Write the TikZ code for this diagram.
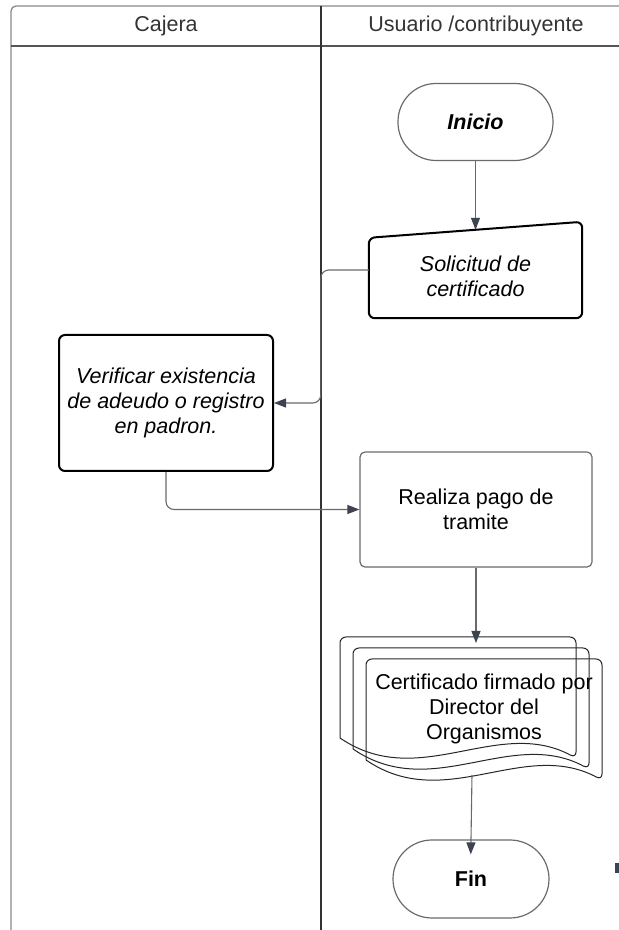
\documentclass[tikz,border=0pt]{standalone}
\usepackage{fontspec}
\setmainfont{Liberation Sans}
\usetikzlibrary{arrows.meta,calc}
\definecolor{laneline}{HTML}{555555}
\definecolor{connline}{HTML}{6A6A6A}
\definecolor{tipcol}{HTML}{3D4350}
\definecolor{headtext}{HTML}{333333}
\def\docpage[#1](#2){\draw[#1, rounded corners=6pt] (#2) ++(0, -101) -- ++(0, 101) -- ++(236, 0) -- ++(0, -121) .. controls +(-79, 42) and +(79, -54) .. ++(-236, 20);}

\begin{document}
\begin{tikzpicture}[x=1pt, y=1pt,
		every node/.style={font=\fontsize{21.5}{25}\selectfont, align=center},
		lane/.style={line width=1.3pt, color=laneline},
		conn/.style={line width=1.1pt, color=connline, rounded corners=8pt, -{Triangle[length=12pt, width=9pt, color=tipcol]}},
		stadium/.style={draw=connline, line width=1.2pt, rounded corners=38pt, minimum height=77pt},
		boldbox/.style={draw=black, line width=2pt, rounded corners=6pt},
		plainbox/.style={draw=connline, line width=1.2pt, rounded corners=5pt},
		docline/.style={line width=1pt, color=black!85}]
			%%%%% START %%%%%
			\useasboundingbox (0, 0) rectangle (619, 930);
			
			% lanes
			\draw[lane, color=laneline!70, rounded corners=5pt] (11, 0) -- (11, 924) -- (619, 924);
			\draw[lane] (11, 884) -- (619, 884);
			\draw[lane, color=black!80] (321, 0) -- (321, 924);
			\node[color=headtext] (cajhead) at (166, 904) {Cajera};
			\node[color=headtext] (usuhead) at (476, 904) {Usuario /contribuyente};
			
			% usuario
			\node[stadium, minimum width=155pt] (ini) at (475.5, 808) {\textbf{\textit{Inicio}}};
			
			\node[minimum width=213pt, minimum height=96pt, label={[align=center, yshift=-6pt]center:\textit{Solicitud de}\\\textit{certificado}}] (sol) at (475.5, 660) {};
			\draw[boldbox] (sol.south west) -- (sol.south east) -- (sol.north east) -- ($(sol.north west)+(0, -16)$) -- cycle;
			\coordinate (soltop) at ($(sol.north)+(0, -8)$);
			
			% cajera
			\node[boldbox, minimum width=214pt, minimum height=136pt] (ver) at (166, 527) {\textit{Verificar existencia}\\\textit{de adeudo o registro}\\\textit{en padron.}};
			
			\node[plainbox, minimum width=232pt, minimum height=115pt] (rea) at (476, 420.5) {Realiza pago de\\tramite};
			
			% documentos
			\docpage[docline](340, 293)
			\docpage[docline](353, 282)
			\docpage[docline](366, 271)
			\node (doc) at (484, 221) {Certificado firmado por\\Director del\\Organismos};
			\coordinate (docin) at (476, 287);
			\coordinate (docout) at (472, 155);
			
			\node[stadium, minimum width=156pt, minimum height=78pt, rounded corners=39pt] (fin) at (471, 51) {\textbf{Fin}};
			
			% flechas
			\draw[conn] (ini.south) -- (soltop);
			\draw[conn] (sol.west) -- ++(-48, 0) |- (ver.east);
			\draw[conn] (ver.south) |- (rea.west);
			\draw[conn] (rea.south) -- (docin);
			\draw[conn, shorten >=-15pt] (docout) -- (fin.north);
			
			\fill[tipcol] (615, 57) rectangle (619, 67);
			%%%%% END %%%%%
\end{tikzpicture}
\end{document}
